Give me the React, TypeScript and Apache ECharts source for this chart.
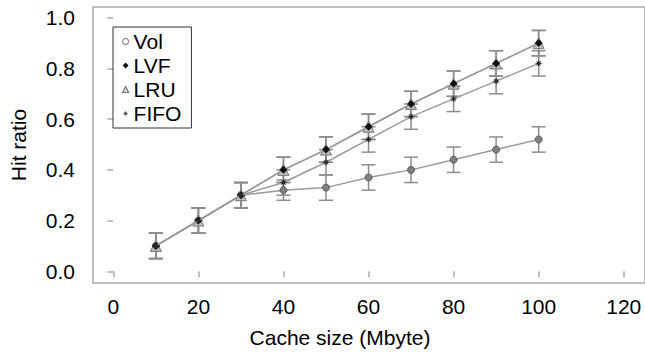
import React, { useEffect, useRef } from "react";
import * as echarts from "echarts";

const cacheSizes = [10, 20, 30, 40, 50, 60, 70, 80, 90, 100];
const volValues = [0.1, 0.2, 0.3, 0.32, 0.33, 0.37, 0.4, 0.44, 0.48, 0.52];
const lvfValues = [0.1, 0.2, 0.3, 0.4, 0.48, 0.57, 0.66, 0.74, 0.82, 0.9];
const lruValues = [0.1, 0.2, 0.3, 0.4, 0.48, 0.57, 0.66, 0.74, 0.82, 0.9];
const fifoValues = [0.1, 0.2, 0.3, 0.35, 0.43, 0.52, 0.61, 0.68, 0.75, 0.82];
const volErrors = [0.05, 0.05, 0.05, 0.04, 0.05, 0.05, 0.05, 0.05, 0.05, 0.05];
const lvfErrors = [0.05, 0.05, 0.05, 0.05, 0.05, 0.05, 0.05, 0.05, 0.05, 0.05];
const lruErrors = [0.05, 0.05, 0.05, 0.05, 0.05, 0.05, 0.05, 0.05, 0.05, 0.05];
const fifoErrors = [0.05, 0.05, 0.05, 0.05, 0.05, 0.05, 0.05, 0.05, 0.05, 0.05];
const xTicks = [0, 20, 40, 60, 80, 100, 120];
const yTicks = [0, 0.2, 0.4, 0.6, 0.8, 1.0];
const seriesNames = ["Vol", "LVF", "LRU", "FIFO"];

const STAR =
  "path://M5,0 L5.9,3.2 L8.5,1.5 L6.8,4.1 L10,5 L6.8,5.9 L8.5,8.5 L5.9,6.8 L5,10 L4.1,6.8 L1.5,8.5 L3.2,5.9 L0,5 L3.2,4.1 L1.5,1.5 L4.1,3.2 Z";

const FONT = "'Liberation Sans', Arial, Helvetica, sans-serif";
const AXIS_GRAY = "#ababab";
const LINE_GRAY = "#9a9a9a";
const ERR_GRAY = "#8c8c8c";

function errData(values: number[], errs: number[]) {
  return cacheSizes.map((x, i) => [x, values[i] - errs[i], values[i] + errs[i]]);
}

function errorSeries(name: string, values: number[], errs: number[]) {
  return {
    type: "custom",
    name: name + "-err",
    z: 1,
    silent: true,
    data: errData(values, errs),
    encode: { x: 0, y: [1, 2] },
    renderItem: (params: any, api: any) => {
      const x = api.value(0);
      const lo = api.value(1);
      const hi = api.value(2);
      const top = api.coord([x, hi]);
      const bot = api.coord([x, lo]);
      const hw = 7;
      const style = { stroke: ERR_GRAY, lineWidth: 1.5 };
      return {
        type: "group",
        children: [
          { type: "line", shape: { x1: top[0], y1: top[1], x2: bot[0], y2: bot[1] }, style },
          { type: "line", shape: { x1: top[0] - hw, y1: top[1], x2: top[0] + hw, y2: top[1] }, style },
          { type: "line", shape: { x1: bot[0] - hw, y1: bot[1], x2: bot[0] + hw, y2: bot[1] }, style },
        ],
      };
    },
  };
}

function lineSeries(name: string, values: number[], symbol: string, size: number, itemStyle: any, z: number) {
  return {
    type: "line",
    name,
    z,
    data: cacheSizes.map((x, i) => [x, values[i]]),
    symbol,
    symbolSize: size,
    showAllSymbol: true,
    lineStyle: { color: LINE_GRAY, width: 1.5 },
    itemStyle,
    emphasis: { disabled: true },
  };
}

export default function App() {
  const ref = useRef<HTMLDivElement>(null);
  useEffect(() => {
    document.body.style.margin = "0";
    if (!ref.current) return;
    const chart = echarts.init(ref.current, undefined, { renderer: "svg" });
    chart.setOption({
      animation: false,
      textStyle: { fontFamily: FONT },
      grid: {
        left: 81,
        top: 7,
        width: 570,
        height: 282,
        show: true,
        borderColor: AXIS_GRAY,
        borderWidth: 1.5,
        containLabel: false,
      },
      legend: {
        orient: "vertical",
        left: 113,
        top: 27,
        padding: [4, 10, 4, 9],
        itemGap: 3,
        itemWidth: 6,
        itemHeight: 6,
        borderColor: "#333",
        borderWidth: 1,
        borderRadius: 0,
        selectedMode: false,
        textStyle: { fontSize: 21, lineHeight: 21, color: "#000", fontFamily: FONT },
        data: [
          { name: seriesNames[0], icon: "circle", itemStyle: { color: "#fff", borderColor: "#888", borderWidth: 1.2 } },
          { name: seriesNames[1], icon: "diamond", itemStyle: { color: "#111", borderWidth: 0 } },
          { name: seriesNames[2], icon: "triangle", itemStyle: { color: "#ddd", borderColor: "#777", borderWidth: 1.2 } },
          { name: seriesNames[3], icon: STAR, itemStyle: { color: "#555", borderWidth: 0 } },
        ],
      },
      xAxis: {
        type: "value",
        min: -4.78,
        max: 125.0,
        name: "Cache size (Mbyte)",
        nameLocation: "middle",
        nameGap: 44,
        nameTextStyle: { fontSize: 21, color: "#000", padding: [0, 58, 0, 0], fontFamily: FONT },
        axisLine: { show: false },
        splitLine: { show: false },
        axisTick: { show: true, length: 6, lineStyle: { color: AXIS_GRAY, width: 1.5 }, customValues: xTicks },
        axisLabel: {
          fontSize: 21,
          color: "#000",
          margin: 13,
          customValues: xTicks,
          formatter: (v: number) => String(Math.round(v)),
          fontFamily: FONT,
        },
      },
      yAxis: {
        type: "value",
        min: -0.0463,
        max: 1.0425,
        name: "Hit ratio",
        nameLocation: "middle",
        nameGap: 64,
        nameRotate: 90,
        nameTextStyle: { fontSize: 21, color: "#000", fontFamily: FONT },
        axisLine: { show: false },
        splitLine: { show: false },
        axisTick: { show: true, length: 6, lineStyle: { color: AXIS_GRAY, width: 1.5 }, customValues: yTicks },
        axisLabel: {
          fontSize: 21,
          color: "#000",
          margin: 18,
          customValues: yTicks,
          formatter: (v: number) => v.toFixed(1),
          fontFamily: FONT,
        },
      },
      series: [
        errorSeries("Vol", volValues, volErrors),
        errorSeries("LRU", lruValues, lruErrors),
        errorSeries("LVF", lvfValues, lvfErrors),
        errorSeries("FIFO", fifoValues, fifoErrors),
        lineSeries("Vol", volValues, "circle", 7, { color: "#808080", borderColor: "#5a5a5a", borderWidth: 1 }, 2),
        lineSeries("LRU", lruValues, "triangle", 11, { color: "#bdbdbd", borderColor: "#777", borderWidth: 1 }, 3),
        lineSeries("LVF", lvfValues, "diamond", 8, { color: "#111", borderWidth: 0 }, 4),
        lineSeries("FIFO", fifoValues, STAR, 8, { color: "#2a2a2a", borderWidth: 0 }, 5),
      ],
    });
    return () => chart.dispose();
  }, []);
  return <div ref={ref} style={{ width: 645, height: 353 }} />;
}
